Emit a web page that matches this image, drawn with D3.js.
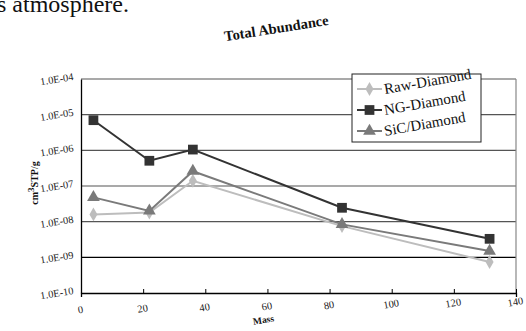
<!DOCTYPE html>
<html><head><meta charset="utf-8">
<script src="https://cdn.jsdelivr.net/npm/d3@7"></script>
<style>body{margin:0;background:#fff;}svg{display:block;} text{font-family:"Liberation Serif", Tinos, "Times New Roman", serif;}</style>
</head><body>
<script>
const masses = [4, 22, 36, 84, 131.5];
const rawDiamond = [1.6e-8, 1.8e-8, 1.4e-7, 7.5e-9, 7.4e-10];
const ngDiamond = [7e-6, 5.1e-7, 1.05e-6, 2.45e-8, 3.3e-9];
const sicDiamond = [4.8e-8, 2.0e-8, 2.6e-7, 8.4e-9, 1.5e-9];
const seriesNames = ["Raw-Diamond", "NG-Diamond", "SiC/Diamond"];
const yTicks = [1e-10, 1e-9, 1e-8, 1e-7, 1e-6, 1e-5, 1e-4];
const xTicks = [0, 20, 40, 60, 80, 100, 120, 140];

const W = 526, H = 331;
const svg = d3.select("body").append("svg").attr("width", W).attr("height", H);

const x = d3.scaleLinear().domain([0, 140]).range([81, 516]);
const y = d3.scaleLog().domain([1e-10, 1e-4]).range([293, 79]);

// page text fragment
svg.append("text").attr("x", -3).attr("y", 12)
  .attr("font-size", 24).attr("fill", "#111").text("s atmosphere.");

// title
svg.append("text").attr("transform", "translate(277,33) rotate(-9)")
  .attr("text-anchor", "middle").attr("font-weight", "bold")
  .attr("font-size", 14.5).attr("fill", "#111").text("Total Abundance");

// gridlines
svg.append("g").selectAll("line").data(yTicks.slice(1)).join("line")
  .attr("x1", x(0)).attr("x2", x(140)).attr("y1", d => y(d)).attr("y2", d => y(d))
  .attr("stroke", (d, i) => i === 0 ? "#000" : "#555").attr("stroke-width", 1.2);

// frame right
svg.append("line").attr("x1", x(140)).attr("x2", x(140)).attr("y1", y(1e-4)).attr("y2", y(1e-10))
  .attr("stroke", "#888").attr("stroke-width", 1.2);

// axes
const gx = svg.append("g").attr("transform", `translate(0,${y(1e-10)})`)
  .call(d3.axisBottom(x).tickValues(xTicks).tickSize(4).tickFormat(""));
const gy = svg.append("g").attr("transform", `translate(${x(0)},0)`)
  .call(d3.axisLeft(y).tickValues(yTicks).tickSize(0).tickFormat(""));
[gx, gy].forEach(g => { g.selectAll("path").attr("stroke", "#000").attr("stroke-width", 1.3);
  g.selectAll("line").attr("stroke", "#000"); });
gx.selectAll(".tick line").attr("y2", -4);

// tick labels (slightly rotated, as in scan)
svg.append("g").selectAll("text").data(yTicks).join("text")
  .attr("transform", d => `translate(74,${y(d) + 1}) rotate(-9)`)
  .attr("text-anchor", "end").attr("font-size", 10.5)
  .attr("fill", "#222").text(d => "1.0E-" + String(Math.round(-Math.log10(d))).padStart(2, "0"));
svg.append("g").selectAll("text").data(xTicks).join("text")
  .attr("transform", d => `translate(${x(d)},${313 - d * 0.055}) rotate(-10)`)
  .attr("text-anchor", "middle").attr("font-size", 10.5)
  .attr("fill", "#222").text(d => d);

// axis titles
svg.append("text").attr("transform", "translate(264,323) rotate(-9)")
  .attr("text-anchor", "middle").attr("font-weight", "bold")
  .attr("font-size", 9.5).attr("fill", "#111").text("Mass");
const yl = svg.append("text").attr("transform", "translate(38,183) rotate(-90)")
  .attr("text-anchor", "middle").attr("font-weight", "bold")
  .attr("font-size", 10).attr("fill", "#111");
yl.append("tspan").text("cm");
yl.append("tspan").attr("dy", -4).attr("font-size", 9).text("3");
yl.append("tspan").attr("dy", 4).text("STP/g");

// series
const series = [
  { name: seriesNames[0], values: rawDiamond, color: "#bdbdbd", shape: d3.symbolDiamond, size: 55 },
  { name: seriesNames[1], values: ngDiamond, color: "#333333", shape: d3.symbolSquare, size: 95 },
  { name: seriesNames[2], values: sicDiamond, color: "#7a7a7a", shape: d3.symbolTriangle, size: 70 }
];
const line = d3.line().x(d => x(d[0])).y(d => y(d[1]));
series.forEach(s => {
  const pts = masses.map((m, i) => [m, s.values[i]]);
  svg.append("path").datum(pts).attr("d", line).attr("fill", "none")
    .attr("stroke", s.color).attr("stroke-width", 2);
  svg.append("g").selectAll("path").data(pts).join("path")
    .attr("d", d3.symbol().type(s.shape).size(s.size))
    .attr("transform", d => `translate(${x(d[0])},${y(d[1])})`)
    .attr("fill", s.color);
});

// legend
svg.append("rect").attr("x", 352).attr("y", 74).attr("width", 129).attr("height", 68)
  .attr("fill", "#fff").attr("stroke", "#222").attr("stroke-width", 1);
series.forEach((s, i) => {
  const ly = 89 + i * 21;
  svg.append("line").attr("x1", 357).attr("x2", 382).attr("y1", ly).attr("y2", ly)
    .attr("stroke", s.color).attr("stroke-width", 2);
  svg.append("path").attr("d", d3.symbol().type(s.shape).size(s.size)())
    .attr("transform", `translate(369.5,${ly})`).attr("fill", s.color);
  svg.append("text").attr("transform", `translate(385,${ly + 5}) rotate(-10)`)
    .attr("font-size", 15).attr("fill", "#111").text(s.name);
});
</script>
</body></html>
